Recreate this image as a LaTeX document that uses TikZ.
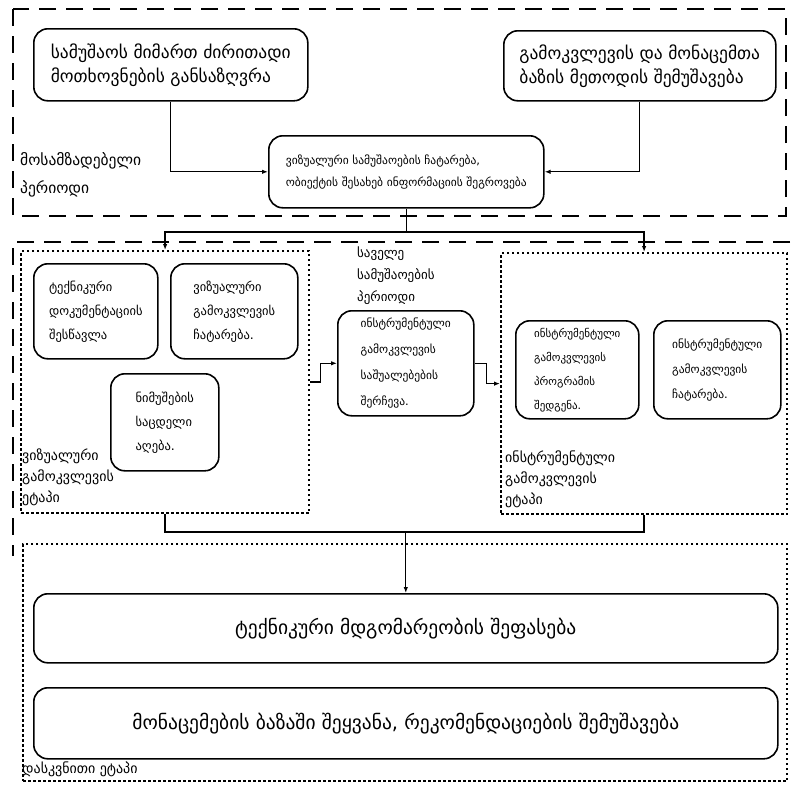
\documentclass[tikz,border=0pt]{standalone}
\usepackage{fontspec}
\setmainfont{DejaVu Sans}
\usetikzlibrary{arrows.meta}
\tikzset{
  x=1pt,y=-1pt,
  rbox/.style={draw,line width=1.6pt,rounded corners=14pt,anchor=north west,align=left,inner sep=0pt},
  dashframe/.style={line width=2.6pt,dash pattern=on 17pt off 10pt},
  dotbox/.style={draw,line width=2.2pt,dash pattern=on 2.4pt off 2.6pt,anchor=north west,inner sep=0pt},
  conn/.style={line width=1.3pt},
  arr/.style={conn,-{Latex[length=6pt,width=4.5pt]}},
  big/.style={font=\fontsize{17.5}{24}\selectfont},
  huge/.style={font=\fontsize{19.5}{24}\selectfont},
  mid/.style={font=\fontsize{12.5}{24}\selectfont},
  lab/.style={font=\fontsize{14}{21}\selectfont,align=left,anchor=north west,inner sep=0pt},
}
\begin{document}
\begin{tikzpicture}
\useasboundingbox (0,0) rectangle (793,804);
% stage frames
\draw[dashframe] (13,9) rectangle (786,216);
\draw[dashframe] (790,242) -- (13,242) -- (13,556);
\node[dotbox,minimum width=288pt,minimum height=262pt] (L) at (20,250) {};
\node[dotbox,minimum width=286pt,minimum height=261pt] (R) at (500,252) {};
\node[dotbox,minimum width=764pt,minimum height=237pt] (B) at (22,543) {};
% preparatory stage
\node[rbox,big,minimum width=274pt,minimum height=72pt] (TL) at (33,28)
  {სამუშაოს მიმართ ძირითადი\\მოთხოვნების განსაზღვრა};
\node[rbox,big,minimum width=272pt,minimum height=70pt] (TR) at (503,30)
  {გამოკვლევის და მონაცემთა\\ბაზის მეთოდის შემუშავება};
\node[rbox,font=\fontsize{11.5}{22}\selectfont,minimum width=275pt,minimum height=72pt] (TC) at (268,135)
  {ვიზუალური სამუშაოების ჩატარება,\\ობიექტის შესახებ ინფორმაციის შეგროვება};
\node[lab,font=\fontsize{15.5}{28}\selectfont] (lp) at (20,152) {მოსამზადებელი\\პერიოდი};
% visual stage
\node[rbox,mid,minimum width=124pt,minimum height=95pt] (L1) at (33,263)
  {ტექნიკური\\დოკუმენტაციის\\შესწავლა};
\node[rbox,mid,minimum width=127pt,minimum height=95pt] (L2) at (170,263)
  {ვიზუალური\\გამოკვლევის\\ჩატარება.};
\node[rbox,mid,minimum width=108pt,minimum height=97pt] (L3) at (110,373)
  {ნიმუშების\\საცდელი\\აღება.};
\node[lab] (lv) at (22,449) {ვიზუალური\\გამოკვლევის\\ეტაპი};
% middle
\node[lab,font=\fontsize{13}{22}\selectfont] (lm) at (357,247) {საველე\\სამუშაოების\\პერიოდი};
\node[rbox,minimum width=136pt,minimum height=105pt,font=\fontsize{11.5}{26}\selectfont] (C) at (337,310)
  {ინსტრუმენტული\\გამოკვლევის\\საშუალებების\\შერჩევა.};
% instrumental stage
\node[rbox,minimum width=123pt,minimum height=98pt,font=\fontsize{11}{24}\selectfont] (R1) at (515,320)
  {ინსტრუმენტული\\გამოკვლევის\\პროგრამის\\შედგენა.};
\node[rbox,minimum width=127pt,minimum height=98pt,font=\fontsize{11.5}{25}\selectfont] (R2) at (653,320)
  {ინსტრუმენტული\\გამოკვლევის\\ჩატარება.};
\node[lab] (lr) at (505,451) {ინსტრუმენტული\\გამოკვლევის\\ეტაპი};
% final stage
\node[rbox,huge,minimum width=744pt,minimum height=69pt,align=center] (B1) at (33,593)
  {ტექნიკური მდგომარეობის შეფასება};
\node[rbox,huge,minimum width=744pt,minimum height=71pt,align=center] (B2) at (33,687)
  {მონაცემების ბაზაში შეყვანა, რეკომენდაციების შემუშავება};
\node[lab] (lf) at (22,762) {დასკვნითი ეტაპი};
% connectors
\draw[arr] (TL.south) |- (TC.west);
\draw[arr] (TR.south) |- (TC.east);
\coordinate (j1) at (TC.south |- 0,232);
\draw[conn] (TC.south) -- (j1);
\draw[arr] (j1) -| (L.north);
\draw[arr] (j1) -| (R.north);
\draw[arr] (L.east) -- ++(10,0) |- (C.west);
\draw[arr] (C.east) -- ++(12,0) |- (R.west);
\coordinate (j2) at (B1.north |- 0,532);
\draw[conn] (L.south) |- (j2) -| (R.south);
\draw[arr] (j2) -- (B1.north);
\end{tikzpicture}
\end{document}
